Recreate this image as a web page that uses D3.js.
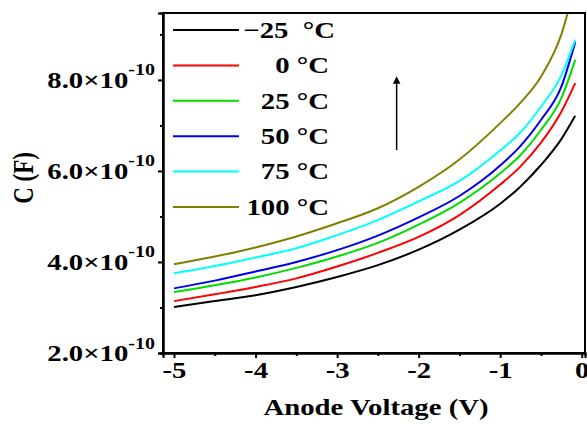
<!DOCTYPE html>
<html>
<head>
<meta charset="utf-8">
<script src="https://d3js.org/d3.v7.min.js"></script>
<style>
  body { margin: 0; background: #fff; }
  svg text { font-family: "Liberation Serif", "Times New Roman", Times, "DejaVu Serif", serif; font-weight: bold; fill: #000; }
</style>
</head>
<body>
<script>
// Data (C in units of 1e-10 F)
var voltage = [-5, -4.5, -4, -3.5, -3, -2.5, -2, -1.5, -1, -0.75, -0.5, -0.25, -0.08];
var cM25  = [3.01, 3.14, 3.27, 3.45, 3.67, 3.93, 4.27, 4.71, 5.28, 5.66, 6.13, 6.70, 7.21];
var c0    = [3.14, 3.29, 3.45, 3.64, 3.90, 4.20, 4.55, 5.03, 5.70, 6.10, 6.62, 7.30, 7.93];
var c25   = [3.34, 3.49, 3.66, 3.87, 4.12, 4.42, 4.82, 5.30, 5.95, 6.35, 6.90, 7.60, 8.44];
var c50   = [3.42, 3.59, 3.79, 4.00, 4.26, 4.58, 4.98, 5.45, 6.12, 6.55, 7.12, 7.85, 8.83];
var c75   = [3.75, 3.91, 4.10, 4.30, 4.59, 4.92, 5.33, 5.78, 6.45, 6.85, 7.41, 8.10, 8.88];
var c100  = [3.95, 4.12, 4.32, 4.56, 4.85, 5.18, 5.65, 6.25, 7.05, 7.50, 8.07, 9.00, 10.1];
var seriesNames = ["\u221225  \u00b0C", "0 \u00b0C", "25 \u00b0C", "50 \u00b0C", "75 \u00b0C", "100 \u00b0C"];
var seriesColors = ["#000000", "#ff0000", "#00dd00", "#0000ee", "#00ffff", "#808000"];
var allSeries = [cM25, c0, c25, c50, c75, c100];
var xTicks = [-5, -4, -3, -2, -1, 0];
var yTicks = [2, 4, 6, 8];

var margin = {top: 13, right: 2, bottom: 72, left: 163},
    width = 587 - margin.left - margin.right,
    height = 425 - margin.top - margin.bottom;

// the source figure is stretched sideways, so text gets a horizontal scale
var stretch = "scale(1.25,1)";

var x = d3.scaleLinear().domain([-5.135, 0.04]).range([0, width]);
var y = d3.scaleLinear().domain([2, 9.47]).range([height, 0]);

var svg = d3.select("body").append("svg")
    .attr("width", 587)
    .attr("height", 425)
  .append("g")
    .attr("transform", "translate(" + margin.left + "," + margin.top + ")");

svg.append("clipPath").attr("id", "clip")
  .append("rect").attr("width", width).attr("height", height);

// curves
var line = d3.line()
    .x(function(d, i) { return x(voltage[i]); })
    .y(function(d) { return y(d); })
    .curve(d3.curveMonotoneX);

svg.append("g").attr("clip-path", "url(#clip)")
  .selectAll("path")
    .data(allSeries)
  .enter().append("path")
    .attr("d", line)
    .attr("fill", "none")
    .attr("stroke", function(d, i) { return seriesColors[i]; })
    .attr("stroke-width", 2);

// frame
svg.append("rect")
    .attr("width", width).attr("height", height)
    .attr("fill", "none").attr("stroke", "#000").attr("stroke-width", 2);

// x axis
var xAxis = svg.append("g")
    .attr("transform", "translate(0," + height + ")")
    .call(d3.axisBottom(x).tickValues(xTicks).tickSize(5).tickPadding(4));
svg.append("g")
    .attr("transform", "translate(0," + height + ")")
    .call(d3.axisBottom(x).tickValues([-4.5, -3.5, -2.5, -1.5, -0.5]).tickSize(3).tickFormat(""));

// y axis
var yAxis = svg.append("g")
    .call(d3.axisLeft(y).tickValues(yTicks).tickSize(5).tickFormat(""));
svg.append("g")
    .call(d3.axisLeft(y).tickValues([3, 5, 7, 9]).tickSize(3).tickFormat(""));

svg.selectAll(".domain").attr("stroke-width", 2);
svg.selectAll(".tick line").attr("stroke-width", 2);

xAxis.selectAll("text")
    .attr("font-size", 23)
    .attr("transform", stretch)
    .text(function(d) { return d === 0 ? "0" : "-" + Math.abs(d); });

yAxis.selectAll(".tick").each(function(d) {
  var t = d3.select(this).append("text")
      .attr("transform", "translate(-8,0) " + stretch)
      .attr("dy", "0.34em")
      .attr("text-anchor", "end")
      .attr("font-size", 23);
  t.append("tspan").text(d.toFixed(1) + "\u00d710");
  t.append("tspan").attr("font-size", 16).attr("dy", "-0.8em").text("-10");
});

// axis titles
svg.append("text")
    .attr("transform", "translate(213," + (height + 62) + ") " + stretch)
    .attr("text-anchor", "middle")
    .attr("font-size", 23)
    .text("Anode Voltage (V)");

svg.append("text")
    .attr("transform", "translate(" + (33 - margin.left) + ",165) rotate(-90) scale(1,1.25)")
    .attr("text-anchor", "middle")
    .attr("font-size", 23)
    .text("C (F)");

// legend
var legend = svg.append("g").attr("transform", "translate(10,17)");
seriesNames.forEach(function(name, i) {
  var row = legend.append("g").attr("transform", "translate(0," + (i * 35.4) + ")");
  row.append("line")
      .attr("x1", 0).attr("x2", 66)
      .attr("stroke", seriesColors[i]).attr("stroke-width", 2);
  row.append("text")
      .attr("transform", "translate(" + (i === 0 ? 162 : 156) + ",0) " + stretch)
      .attr("dy", "0.34em")
      .attr("text-anchor", "end")
      .attr("font-size", 23)
      .style("white-space", "pre")
      .text(name);
});

// arrow
svg.append("defs").append("marker")
    .attr("id", "arrowhead")
    .attr("viewBox", "0 0 10 10")
    .attr("refX", 5).attr("refY", 5)
    .attr("markerWidth", 5).attr("markerHeight", 7)
    .attr("orient", "auto")
  .append("path").attr("d", "M0,0 L10,5 L0,10 Z").attr("fill", "#000");

svg.append("line")
    .attr("x1", x(-2.27)).attr("x2", x(-2.27))
    .attr("y1", y(6.46)).attr("y2", y(8.0))
    .attr("stroke", "#000").attr("stroke-width", 1.5)
    .attr("marker-end", "url(#arrowhead)");
</script>
</body>
</html>
